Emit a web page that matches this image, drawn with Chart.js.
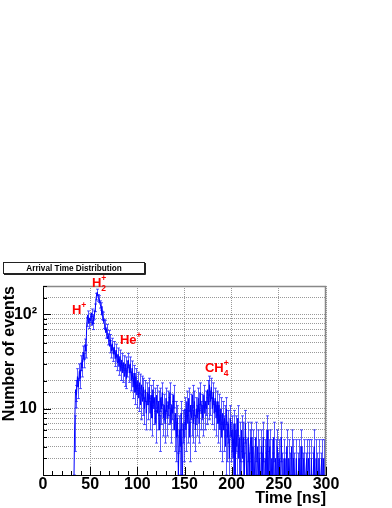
<!DOCTYPE html>
<html>
<head>
<meta charset="utf-8">
<script src="https://cdn.jsdelivr.net/npm/chart.js@4/dist/chart.umd.min.js"></script>
<style>
  html, body { margin: 0; padding: 0; background: #fff; }
  canvas { display: block; }
</style>
</head>
<body>
<canvas id="c" width="392" height="508"></canvas>
<script>
const histTitle = 'Arrival Time Distribution';
const xTitle = 'Time [ns]';
const yTitle = 'Number of events';

// 1 ns bins, first bin starts at 30 ns
const firstBin = 30;
const binWidth = 1;
const counts = [
  0, 0, 1, 6, 16, 14, 22, 17, 25, 21,          // 30-39
  31, 27, 40, 33, 48, 41, 84, 99, 80, 92,      // 40-49
  86, 104, 78, 90, 99, 118, 155, 172, 150, 146,// 50-59
  128, 122, 98, 96, 80, 78, 64, 70, 55, 60,    // 60-69
  46, 54, 41, 49, 38, 45, 34, 42, 31, 38,      // 70-79
  28, 36, 25, 33, 24, 31, 22, 30, 21, 27,      // 80-89
  33, 24, 30, 20, 27, 17, 24, 15, 22, 14,      // 90-99
  20, 13, 19, 11, 18, 12, 17, 10, 16, 9,       // 100-109
  15, 11, 17, 9, 14, 8, 16, 10, 13, 7,         // 110-119
  14, 9, 12, 6, 13, 10, 15, 8, 11, 7,          // 120-129
  13, 8, 12, 10, 15, 7, 11, 9, 14, 6,          // 130-139
  9, 5, 8, 2, 6, 4, 9, 1, 7, 5,                // 140-149
  10, 6, 12, 7, 13, 5, 11, 8, 14, 7,           // 150-159
  12, 6, 10, 8, 13, 7, 15, 9, 11, 8,           // 160-169
  14, 9, 12, 10, 16, 11, 18, 12, 17, 10,       // 170-179
  15, 9, 13, 8, 12, 7, 11, 6, 10, 5,           // 180-189
  9, 6, 8, 4, 10, 5, 7, 3, 8, 5,               // 190-199
  6, 3, 7, 2, 6, 4, 8, 3, 5, 1,                // 200-209
  6, 3, 5, 2, 7, 3, 1, 5, 2, 4,                // 210-219
  5, 2, 4, 1, 3, 5, 1, 4, 2, 3,                // 220-229
  1, 4, 2, 5, 1, 3, 2, 6, 1, 3,                // 230-239
  4, 1, 3, 2, 5, 1, 3, 1, 4, 2,                // 240-249
  3, 1, 5, 2, 1, 3, 1, 2, 4, 1,                // 250-259
  3, 2, 1, 4, 1, 3, 2, 1, 3, 1,                // 260-269
  2, 3, 1, 4, 1, 2, 3, 1, 2, 3,                // 270-279
  1, 3, 2, 1, 3, 1, 2, 4, 1, 3,                // 280-289
  2, 1, 3, 1, 2, 3, 1, 3, 1, 2                 // 290-299
];

const xTickLabels = [0, 50, 100, 150, 200, 250, 300];
const yTickLabels = { 10: '10', 100: '10²' };

const binCenters = counts.map((_, i) => firstBin + (i + 0.5) * binWidth);
const points = counts.map((n, i) => ({ x: binCenters[i], y: n }));

// ion labels, placed in data coordinates (time, counts)
const peakLabels = [
  { text: 'H',  sub: '',  sup: '+', t: 30.7,  n: 100.7 },
  { text: 'H',  sub: '2', sup: '+', t: 51.9,  n: 194 },
  { text: 'He', sub: '',  sup: '+', t: 81.6,  n: 48.6 },
  { text: 'CH', sub: '4', sup: '+', t: 171.7, n: 24.7 }
];

const FONT = '"Liberation Sans", Arial, Helvetica, sans-serif';

const errorBars = {
  id: 'errorBars',
  beforeDatasetsDraw(chart) {
    const { ctx, chartArea: a, scales: { x, y } } = chart;
    ctx.save();
    ctx.beginPath();
    ctx.rect(a.left, a.top, a.right - a.left, a.bottom - a.top);
    ctx.clip();
    ctx.strokeStyle = 'rgba(20,20,255,0.7)';
    ctx.lineWidth = 1;
    ctx.beginPath();
    counts.forEach((n, i) => {
      if (n <= 0) return;
      const e = Math.sqrt(n);
      const px = Math.round(x.getPixelForValue(binCenters[i])) + 0.5;
      const top = y.getPixelForValue(n + e);
      const bot = n - e > 0 ? y.getPixelForValue(n - e) : a.bottom + 2;
      ctx.moveTo(px, top); ctx.lineTo(px, bot);
      ctx.moveTo(px - 1.5, top); ctx.lineTo(px + 1.5, top);
      ctx.moveTo(px - 1.5, bot); ctx.lineTo(px + 1.5, bot);
    });
    ctx.stroke();
    ctx.restore();
  }
};

const frameAndLabels = {
  id: 'frameAndLabels',
  afterDraw(chart) {
    const { ctx, chartArea: a, scales: { x, y } } = chart;
    ctx.save();

    // top / right frame
    ctx.strokeStyle = '#888';
    ctx.lineWidth = 1.5;
    ctx.beginPath();
    ctx.moveTo(a.left, a.top + 0.5);
    ctx.lineTo(a.right - 0.5, a.top + 0.5);
    ctx.lineTo(a.right - 0.5, a.bottom);
    ctx.stroke();

    // tick marks inside the frame
    ctx.strokeStyle = '#000';
    ctx.lineWidth = 1;
    ctx.beginPath();
    for (let t = 0; t <= 300; t += 10) {
      const px = Math.round(x.getPixelForValue(t)) + 0.5;
      const len = t % 50 === 0 ? 8 : 4;
      ctx.moveTo(px, a.bottom); ctx.lineTo(px, a.bottom - len);
    }
    y.ticks.forEach(tk => {
      const py = Math.round(y.getPixelForValue(tk.value)) + 0.5;
      const lg = Math.log10(tk.value);
      const len = Math.abs(lg - Math.round(lg)) < 1e-9 ? 8 : 4;
      ctx.moveTo(a.left, py); ctx.lineTo(a.left + len, py);
    });
    ctx.stroke();

    // histogram title box
    ctx.fillStyle = '#fff';
    ctx.fillRect(3, 262, 142, 11);
    ctx.strokeStyle = '#222';
    ctx.lineWidth = 1;
    ctx.strokeRect(3.5, 262.5, 141, 11);
    ctx.beginPath();
    ctx.moveTo(145.5, 263); ctx.lineTo(145.5, 274.5); ctx.lineTo(4, 274.5);
    ctx.stroke();
    ctx.fillStyle = '#000';
    ctx.font = 'bold 8.2px ' + FONT;
    ctx.textAlign = 'center';
    ctx.textBaseline = 'middle';
    ctx.fillText(histTitle, 74, 268.5);

    // ion labels
    ctx.fillStyle = '#ff0000';
    ctx.textAlign = 'left';
    ctx.textBaseline = 'alphabetic';
    peakLabels.forEach(p => {
      const px = x.getPixelForValue(p.t);
      const py = y.getPixelForValue(p.n);
      ctx.font = 'bold 13px ' + FONT;
      ctx.fillText(p.text, px, py);
      const w = ctx.measureText(p.text).width;
      ctx.font = 'bold 8.5px ' + FONT;
      if (p.sup) ctx.fillText(p.sup, px + w, py - 6);
      if (p.sub) ctx.fillText(p.sub, px + w, py + 4);
    });

    ctx.restore();
  }
};

new Chart(document.getElementById('c'), {
  type: 'line',
  data: {
    datasets: [{
      data: points,
      borderColor: '#0000ff',
      borderWidth: 1,
      pointRadius: 0,
      tension: 0,
      fill: false
    }]
  },
  plugins: [errorBars, frameAndLabels],
  options: {
    responsive: false,
    animation: false,
    devicePixelRatio: 1,
    layout: { padding: { top: 286, right: 66, left: 0, bottom: 0 } },
    plugins: {
      legend: { display: false },
      tooltip: { enabled: false }
    },
    scales: {
      x: {
        type: 'linear',
        min: 0,
        max: 300,
        afterFit: (scale) => { scale.height = 33; },
        ticks: {
          stepSize: 50,
          padding: 0,
          color: '#000',
          font: { family: FONT, size: 16, weight: 'bold' },
          callback: (v) => xTickLabels.includes(v) ? String(v) : ''
        },
        grid: { color: '#999', lineWidth: 1, drawTicks: false },
        border: { display: true, color: '#000', width: 1, dash: [1, 1] },
        title: {
          display: true,
          text: xTitle,
          align: 'end',
          padding: 0,
          color: '#000',
          font: { family: FONT, size: 16, weight: 'bold' }
        }
      },
      y: {
        type: 'logarithmic',
        min: 2,
        max: 200,
        afterFit: (scale) => { scale.width = 43; },
        ticks: {
          autoSkip: false,
          padding: 6,
          color: '#000',
          font: { family: FONT, size: 16, weight: 'bold' },
          callback: (v) => yTickLabels[v] ?? ''
        },
        grid: { color: '#999', lineWidth: 1, drawTicks: false },
        border: { display: true, color: '#000', width: 1, dash: [1, 1] },
        title: {
          display: true,
          text: yTitle,
          align: 'end',
          padding: 0,
          color: '#000',
          font: { family: FONT, size: 16, weight: 'bold' }
        }
      }
    }
  }
});
</script>
</body>
</html>
